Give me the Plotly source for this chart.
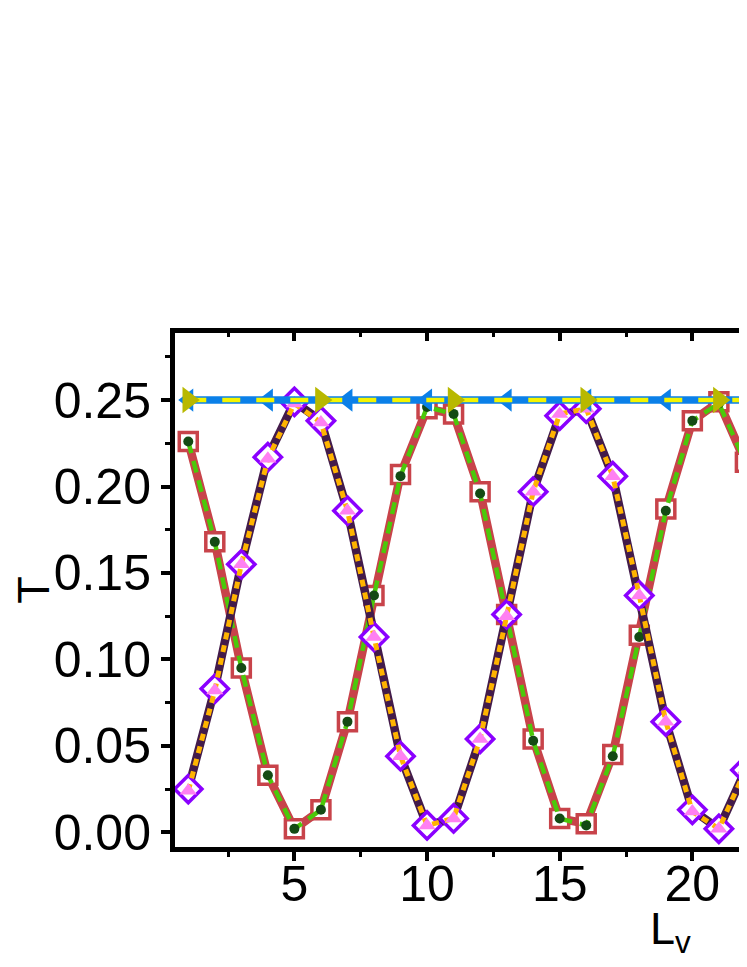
import plotly.graph_objects as go

# L_v values and the transmission curves
lv = list(range(1, 23))

t_square = [0.226, 0.168, 0.095, 0.033, 0.002, 0.013, 0.064, 0.137, 0.207, 0.245, 0.242,
            0.197, 0.126, 0.054, 0.008, 0.005, 0.045, 0.114, 0.187, 0.238, 0.249, 0.214]
t_dot = [0.226, 0.168, 0.095, 0.033, 0.002, 0.013, 0.064, 0.137, 0.206, 0.246, 0.242,
         0.196, 0.125, 0.053, 0.008, 0.004, 0.044, 0.113, 0.186, 0.238, 0.248, 0.214]
t_diamond = [0.025, 0.083, 0.155, 0.217, 0.249, 0.238, 0.186, 0.113, 0.044, 0.004, 0.008,
             0.054, 0.126, 0.197, 0.241, 0.245, 0.206, 0.137, 0.064, 0.013, 0.002, 0.036]
t_triangle = [0.024, 0.082, 0.155, 0.216, 0.248, 0.237, 0.186, 0.113, 0.044, 0.004, 0.008,
              0.054, 0.125, 0.197, 0.242, 0.245, 0.206, 0.137, 0.064, 0.012, 0.002, 0.036]
t_flat = [0.25] * len(lv)

# markers shown only on some points of the flat curves
left_marker_lv = [1, 4, 7, 10, 13, 16, 19, 22]
right_marker_lv = [1, 6, 11, 16, 21]

FONT = "Liberation Sans, Arial, sans-serif"

fig = go.Figure()

fig.add_trace(go.Scatter(
    x=lv, y=t_square, mode="lines+markers",
    line=dict(color="#C8434A", width=8.5),
    marker=dict(symbol="square", size=18, color="white",
                line=dict(color="#C8434A", width=3.5)),
))
fig.add_trace(go.Scatter(
    x=lv, y=t_dot, mode="lines+markers",
    line=dict(color="#4CC80A", width=4.5, dash="12px,8px"),
    marker=dict(symbol="circle", size=10, color="#144A14"),
))
fig.add_trace(go.Scatter(
    x=lv, y=t_diamond, mode="lines+markers",
    line=dict(color="#431B4A", width=8.5),
    marker=dict(symbol="diamond", size=21, color="white",
                line=dict(color="#8A00FF", width=3.5)),
))
fig.add_trace(go.Scatter(
    x=lv, y=t_triangle, mode="lines+markers",
    line=dict(color="#FFB400", width=5, dash="7px,6px"),
    marker=dict(symbol="triangle-up", size=15, color="#FF80F2"),
))

fig.add_trace(go.Scatter(
    x=lv, y=t_flat, mode="lines",
    line=dict(color="#0B80E8", width=7.5),
))
fig.add_trace(go.Scatter(
    x=left_marker_lv, y=[t_flat[i - 1] for i in left_marker_lv], mode="markers",
    marker=dict(symbol="triangle-left", size=20, color="#0B80E8"),
))
fig.add_trace(go.Scatter(
    x=lv, y=t_flat, mode="lines",
    line=dict(color="#F5F500", width=4.5, dash="18px,16px"),
))
fig.add_trace(go.Scatter(
    x=right_marker_lv, y=[t_flat[i - 1] for i in right_marker_lv], mode="markers",
    marker=dict(symbol="triangle-right", size=23, color="#B8B800"),
))

# dummy trace so the top axis is drawn
fig.add_trace(go.Scatter(x=[], y=[], xaxis="x2", showlegend=False))

tick_font = dict(family=FONT, size=50, color="black")
title_font = dict(family=FONT, size=45, color="black")

fig.update_layout(
    width=739, height=951,
    margin=dict(l=159, r=0, t=325, b=112),
    paper_bgcolor="white", plot_bgcolor="white",
    showlegend=False,
    font=dict(family=FONT, color="black"),
    xaxis=dict(
        range=[0.5, 22.06], tickvals=[5, 10, 15, 20],
        ticks="outside", ticklen=9, tickwidth=3.5, tickcolor="black",
        minor=dict(tickvals=[2.5, 7.5, 12.5, 17.5], ticks="outside", ticklen=5, tickwidth=3, tickcolor="black"),
        showline=True, linewidth=5, linecolor="black",
        showgrid=False, zeroline=False, tickfont=tick_font,
        ticklabelstandoff=-20,
    ),
    xaxis2=dict(
        range=[0.5, 22.06], overlaying="x", side="top", tickvals=[5, 10, 15, 20],
        ticks="inside", ticklen=8, tickwidth=3.5, tickcolor="black", showticklabels=False,
        minor=dict(tickvals=[2.5, 7.5, 12.5, 17.5], ticks="inside", ticklen=4, tickwidth=3, tickcolor="black"),
        showline=True, linewidth=5, linecolor="black",
        showgrid=False, zeroline=False,
    ),
    yaxis=dict(
        range=[-0.0085, 0.2888], tickvals=[0, 0.05, 0.1, 0.15, 0.2, 0.25],
        tickformat=".2f",
        ticks="outside", ticklen=9, tickwidth=3.5, tickcolor="black",
        minor=dict(tickvals=[0.025, 0.075, 0.125, 0.175, 0.225, 0.275], ticks="outside",
                   ticklen=5, tickwidth=3, tickcolor="black"),
        showline=True, linewidth=5, linecolor="black",
        showgrid=False, zeroline=False, tickfont=tick_font,
        title=dict(text="T", font=title_font, standoff=14),
    ),
    annotations=[dict(
        text="L<sub>v</sub>", xref="paper", yref="paper", x=0.867, y=0,
        xanchor="center", yanchor="top", yshift=-54, showarrow=False,
        font=title_font,
    )],
)

fig.write_html("out.html")
